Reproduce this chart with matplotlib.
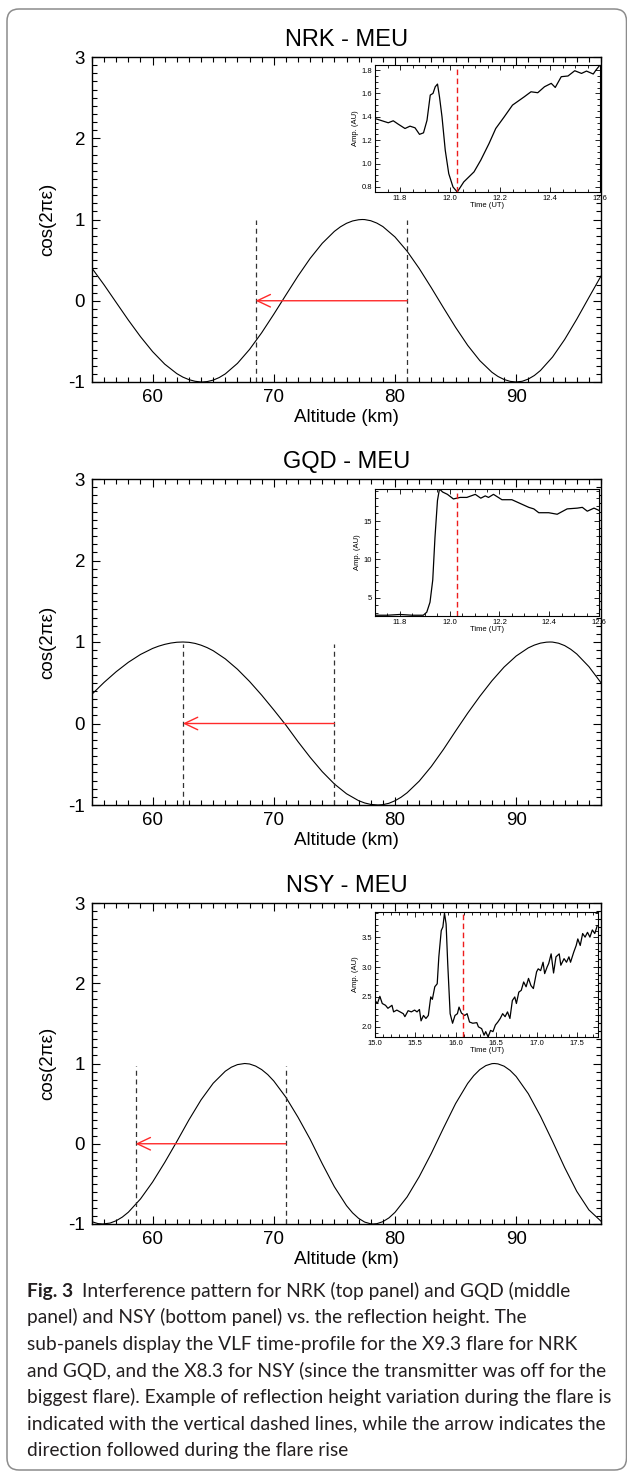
import matplotlib
matplotlib.use("Agg")
import matplotlib.pyplot as plt
from matplotlib.patches import FancyBboxPatch
from matplotlib.transforms import Affine2D
from matplotlib.ticker import MultipleLocator, FormatStrFormatter

W, H = 627, 1474

# interference pattern cos(2*pi*eps) vs altitude, one curve per path
alt_nrk = [55, 56, 57, 58, 59, 60, 61, 62, 62.5, 63, 63.5, 64, 64.1, 64.5, 65, 65.5, 66, 67, 68, 69,
           70, 71, 72, 73, 74, 75, 75.5, 76, 76.5, 77, 77.3, 77.5, 78, 78.5, 79, 80, 81, 82, 83, 84,
           85, 86, 87, 88, 88.5, 89, 89.5, 90, 90.5, 91, 91.5, 92, 93, 94, 95, 96, 97]
cos_nrk = [0.40, 0.195, -0.022, -0.238, -0.442, -0.626, -0.780, -0.897, -0.940, -0.971,
           -0.991, -1.0, -1.0, -0.995, -0.977, -0.945, -0.900, -0.771, -0.599, -0.394,
           -0.166, 0.071, 0.305, 0.521, 0.707, 0.854, 0.910, 0.953, 0.982, 0.997,
           1.0, 0.999, 0.985, 0.956, 0.913, 0.785, 0.610, 0.397, 0.160, -0.086,
           -0.327, -0.549, -0.737, -0.880, -0.932, -0.969, -0.992, -1.0, -0.991, -0.964,
           -0.920, -0.859, -0.693, -0.477, -0.227, 0.040, 0.304]

alt_gqd = [55, 56, 57, 58, 59, 60, 60.5, 61, 61.5, 62, 62.5, 63, 63.5, 64, 64.5, 65, 66, 67, 68, 69,
           70, 71, 72, 73, 74, 75, 76, 77, 77.5, 78, 78.6, 79, 79.5, 80, 80.5, 81, 82, 83, 84, 85,
           86, 87, 88, 89, 90, 91, 91.5, 92, 92.5, 92.8, 93, 93.5, 94, 94.5, 95, 96, 97]
cos_gqd = [0.360, 0.505, 0.636, 0.751, 0.847, 0.921, 0.949, 0.971, 0.987, 0.997,
           1.0, 0.996, 0.983, 0.961, 0.931, 0.893, 0.793, 0.666, 0.516, 0.348,
           0.167, -0.020, -0.223, -0.415, -0.591, -0.742, -0.862, -0.947, -0.975, -0.993,
           -1.0, -0.996, -0.979, -0.948, -0.905, -0.850, -0.707, -0.527, -0.318, -0.093,
           0.127, 0.333, 0.524, 0.692, 0.828, 0.928, 0.962, 0.986, 0.998, 1.0,
           0.999, 0.985, 0.956, 0.911, 0.853, 0.698, 0.500]

alt_nsy = [55, 55.5, 55.9, 56.5, 57, 57.5, 58, 59, 60, 61, 62, 63, 64, 65, 66, 66.5, 67, 67.6, 68, 68.5,
           69, 69.5, 70, 71, 72, 73, 74, 75, 76, 76.5, 77, 77.5, 78, 78.2, 78.5, 79, 79.5, 80, 81, 82,
           83, 84, 85, 86, 86.5, 87, 87.5, 88, 88.2, 88.5, 89, 89.5, 90, 91, 92, 93, 94, 95, 96, 97]
cos_nsy = [-0.972, -0.995, -1.0, -0.988, -0.959, -0.914, -0.853, -0.688, -0.477, -0.233,
           0.028, 0.298, 0.547, 0.754, 0.904, 0.954, 0.986, 1.0, 0.994, 0.968,
           0.924, 0.862, 0.782, 0.579, 0.330, 0.056, -0.249, -0.536, -0.771, -0.861,
           -0.930, -0.976, -0.998, -1.0, -0.996, -0.971, -0.924, -0.855, -0.663, -0.410,
           -0.120, 0.195, 0.500, 0.752, 0.849, 0.924, 0.974, 0.998, 1.0, 0.995,
           0.967, 0.914, 0.838, 0.624, 0.345, 0.031, -0.296, -0.593, -0.824, -0.965]

# reflection height before / after the flare (km) and height of the dashed markers
heights_nrk = [68.5, 81.0]
heights_gqd = [62.5, 75.0]
heights_nsy = [58.6, 71.0]
dash_top = [1.0, 0.97, 0.97]

# VLF amplitude profiles shown in the small panels
t_nrk = [11.699, 11.753, 11.773, 11.793, 11.820, 11.840, 11.860, 11.878, 11.894, 11.908, 11.921, 11.932,
         11.941, 11.950, 11.958, 11.968, 11.981, 11.995, 12.012, 12.029, 12.055, 12.096, 12.123, 12.156,
         12.183, 12.217, 12.250, 12.297, 12.324, 12.351, 12.378, 12.405, 12.421, 12.445, 12.472, 12.499,
         12.526, 12.546, 12.573, 12.584, 12.600]
amp_nrk = [1.386, 1.349, 1.366, 1.337, 1.300, 1.320, 1.306, 1.250, 1.263, 1.370, 1.586, 1.600, 1.657, 1.680,
           1.570, 1.400, 1.114, 0.914, 0.800, 0.757, 0.843, 0.929, 1.029, 1.171, 1.300, 1.400, 1.500, 1.571,
           1.614, 1.606, 1.657, 1.686, 1.651, 1.743, 1.749, 1.794, 1.771, 1.791, 1.766, 1.800, 1.843]

t_gqd = [11.70, 11.75, 11.80, 11.85, 11.894, 11.908, 11.921, 11.932, 11.941, 11.951, 11.959, 11.972, 11.991,
         12.015, 12.042, 12.069, 12.103, 12.125, 12.143, 12.156, 12.176, 12.21, 12.25, 12.284, 12.318, 12.338,
         12.358, 12.398, 12.432, 12.472, 12.513, 12.533, 12.553, 12.58, 12.60]
amp_gqd = [2.7, 2.7, 2.8, 2.7, 2.7, 3.1, 4.4, 7.3, 12.9, 17.7, 19.2, 18.8, 18.5, 17.9, 18.1, 18.1, 18.5, 18.0,
           18.3, 18.1, 18.5, 17.8, 17.8, 17.3, 16.8, 16.6, 16.1, 16.1, 15.9, 16.6, 16.7, 16.8, 16.3, 16.7, 16.4]

t_nsy = [15.00, 15.03, 15.06, 15.09, 15.13, 15.16, 15.21, 15.23, 15.27, 15.31, 15.35, 15.37, 15.41, 15.45,
         15.49, 15.52, 15.55, 15.57, 15.60, 15.63, 15.66, 15.69, 15.71, 15.74, 15.77, 15.79, 15.82, 15.84,
         15.86, 15.88, 15.90, 15.93, 15.96, 15.99, 16.02, 16.04, 16.07, 16.11, 16.14, 16.17, 16.21, 16.26,
         16.28, 16.32, 16.35, 16.37, 16.40, 16.43, 16.46, 16.49, 16.52, 16.55, 16.58, 16.61, 16.64, 16.67,
         16.70, 16.73, 16.75, 16.78, 16.81, 16.84, 16.87, 16.90, 16.93, 16.96, 17.00, 17.02, 17.05, 17.08,
         17.10, 17.13, 17.15, 17.18, 17.21, 17.24, 17.28, 17.30, 17.34, 17.37, 17.40, 17.42, 17.46, 17.49,
         17.51, 17.54, 17.57, 17.60, 17.63, 17.66, 17.69, 17.72, 17.75]
amp_nsy = [2.44, 2.39, 2.51, 2.39, 2.36, 2.31, 2.36, 2.25, 2.28, 2.25, 2.22, 2.17, 2.27, 2.25, 2.28, 2.25,
           2.29, 2.10, 2.19, 2.14, 2.19, 2.50, 2.46, 2.67, 2.72, 3.17, 3.61, 3.67, 3.90, 3.72, 3.06, 2.22,
           2.06, 2.19, 2.22, 2.33, 2.23, 2.19, 2.22, 2.08, 2.06, 2.07, 2.00, 1.97, 1.86, 1.92, 1.83, 1.94,
           1.92, 2.03, 2.08, 2.14, 2.22, 2.17, 2.25, 2.14, 2.44, 2.50, 2.39, 2.58, 2.61, 2.75, 2.67, 2.81,
           2.69, 2.64, 2.92, 2.97, 2.94, 3.08, 2.89, 3.00, 3.06, 3.22, 2.90, 3.17, 3.22, 3.03, 3.14, 3.08,
           3.17, 3.08, 3.25, 3.36, 3.47, 3.36, 3.56, 3.50, 3.58, 3.50, 3.62, 3.56, 3.69]

# time of the reflection height marked on the profile
t_mark = [12.029, 12.029, 16.09]

titles = ["NRK - MEU", "GQD - MEU", "NSY - MEU"]

caption_lines = [
    "Interference pattern for NRK (top panel) and GQD (middle",
    "panel) and NSY (bottom panel) vs. the reflection height. The",
    "sub-panels display the VLF time-profile for the X9.3 flare for NRK",
    "and GQD, and the X8.3 for NSY (since the transmitter was off for the",
    "biggest flare). Example of reflection height variation during the flare is",
    "indicated with the vertical dashed lines, while the arrow indicates the",
    "direction followed during the flare rise",
]

plt.rcParams['font.family'] = ['Liberation Sans', 'DejaVu Sans']
plt.rcParams['axes.unicode_minus'] = False

fig = plt.figure(figsize=(W / 100, H / 100), dpi=100)
# pixel coordinates measured from the top-left corner
px = Affine2D().scale(1, -1).translate(0, H).scale(1 / W, 1 / H) + fig.transFigure


def rect(x0, y0, x1, y1):
    return [x0 / W, 1 - y1 / H, (x1 - x0) / W, (y1 - y0) / H]


main_boxes = [(92, 57, 601, 382), (92, 479, 601, 805), (92, 903, 601, 1224)]
inset_boxes = [(375, 65, 600, 192), (375, 489, 599, 616), (375, 912, 598, 1037)]

curves = [(alt_nrk, cos_nrk), (alt_gqd, cos_gqd), (alt_nsy, cos_nsy)]
heights = [heights_nrk, heights_gqd, heights_nsy]
profiles = [(t_nrk, amp_nrk), (t_gqd, amp_gqd), (t_nsy, amp_nsy)]

inset_cfg = [
    dict(xlim=(11.7, 12.6), ylim=(0.757, 1.843), xmaj=0.2, xmin=0.05, ymaj=0.2, ymin=0.05, yfmt='%.1f', xfmt='%.1f'),
    dict(xlim=(11.7, 12.6), ylim=(2.6, 19.2), xmaj=0.2, xmin=0.05, ymaj=5, ymin=1, yfmt='%d', xfmt='%.1f'),
    dict(xlim=(15.0, 17.76), ylim=(1.83, 3.92), xmaj=0.5, xmin=0.1, ymaj=0.5, ymin=0.1, yfmt='%.1f', xfmt='%.1f'),
]

for i in range(3):
    ax = fig.add_axes(rect(*main_boxes[i]))
    alt, val = curves[i]
    ax.plot(alt, val, color='black', lw=0.8, zorder=2)
    lo, hi = heights[i]
    for h in (lo, hi):
        ax.plot([h, h], [-1, dash_top[i]], color='#333333', lw=0.9, ls=(0, (4, 3)), zorder=2)
    ax.annotate('', xy=(lo, 0), xytext=(hi, 0),
                arrowprops=dict(arrowstyle='->,head_length=0.95,head_width=0.45', color='#ff2a2a',
                                lw=1.0, shrinkA=0, shrinkB=0, mutation_scale=10), zorder=3)
    ax.set_xlim(55, 97)
    ax.set_ylim(-1, 3)
    ax.xaxis.set_major_locator(MultipleLocator(10))
    ax.xaxis.set_minor_locator(MultipleLocator(1))
    ax.yaxis.set_major_locator(MultipleLocator(1))
    ax.yaxis.set_minor_locator(MultipleLocator(0.1))
    ax.tick_params(which='both', direction='in', top=True, right=True, width=0.8, labelsize=13.5)
    ax.tick_params(which='major', length=6, pad=5)
    ax.tick_params(which='minor', length=3.5)
    for s in ax.spines.values():
        s.set_linewidth(1.0)
    ax.set_xlabel('Altitude (km)', fontsize=13.5, labelpad=2)
    ax.set_ylabel('cos(2πε)', fontsize=13.5, labelpad=9)
    ax.set_title(titles[i], fontsize=17, pad=8)

    cfg = inset_cfg[i]
    ins = fig.add_axes(rect(*inset_boxes[i]))
    ins.set_zorder(5)
    t, amp = profiles[i]
    ins.plot(t, amp, color='black', lw=0.9)
    ins.axvline(t_mark[i], color='#ee1c1c', lw=1.0, ls=(0, (4, 2.5)))
    ins.set_xlim(*cfg['xlim'])
    ins.set_ylim(*cfg['ylim'])
    ins.xaxis.set_major_locator(MultipleLocator(cfg['xmaj']))
    ins.xaxis.set_minor_locator(MultipleLocator(cfg['xmin']))
    ins.yaxis.set_major_locator(MultipleLocator(cfg['ymaj']))
    ins.yaxis.set_minor_locator(MultipleLocator(cfg['ymin']))
    ins.xaxis.set_major_formatter(FormatStrFormatter(cfg['xfmt']))
    ins.yaxis.set_major_formatter(FormatStrFormatter(cfg['yfmt']))
    ins.tick_params(which='both', direction='in', top=True, right=True, width=0.6, labelsize=5.5, pad=2)
    ins.tick_params(which='major', length=3.5)
    ins.tick_params(which='minor', length=2)
    for s in ins.spines.values():
        s.set_linewidth(0.8)
    ins.set_xlabel('Time (UT)', fontsize=5.5, labelpad=0.5)
    ins.set_ylabel('Amp. (AU)', fontsize=5.5, labelpad=2)

# rounded frame around the figure
frame = FancyBboxPatch((7, 9), 619.5, 1461, boxstyle='round,pad=0,rounding_size=12',
                       transform=Affine2D().scale(1, -1).translate(0, H) + Affine2D().scale(1 / W, 1 / H)
                       + fig.transFigure, fill=False, ec='#8c8c8c', lw=1.1)
fig.patches.append(frame)

# caption, sized so the longest line fills the frame width
fig.canvas.draw()
r = fig.canvas.get_renderer()
cap_font = ['Lato', 'DejaVu Sans']
probe = fig.text(0, 0, caption_lines[4], fontsize=10, family=cap_font)
cap_size = 10 * 586 / probe.get_window_extent(r).width
probe.remove()

x0 = 27
base = 1297
step = 26.5
label = fig.text(x0, base, 'Fig. 3', transform=px, fontsize=cap_size, family=cap_font,
                 weight='bold', va='baseline', color='#231f20')
bw = label.get_window_extent(r).width
for k, line in enumerate(caption_lines):
    xs = x0 + bw + 9 if k == 0 else x0
    fig.text(xs, base + step * k, line, transform=px, fontsize=cap_size, family=cap_font,
             va='baseline', color='#231f20')

fig.savefig('out.png', dpi=100)
